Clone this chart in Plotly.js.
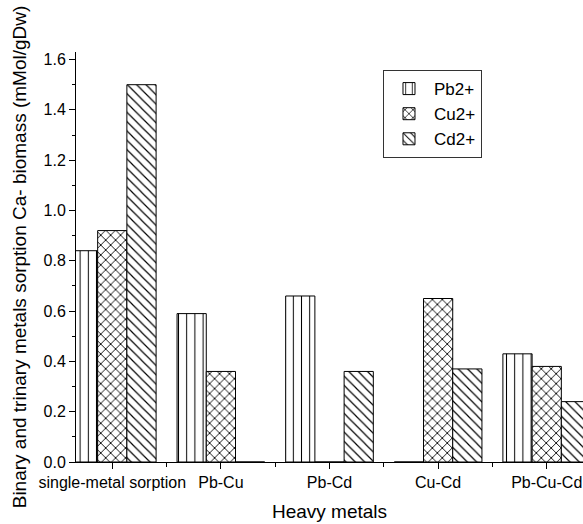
<!DOCTYPE html>
<html>
<head>
<meta charset="utf-8">
<script src="https://cdn.plot.ly/plotly-3.0.1.min.js"></script>
<style>html,body{margin:0;padding:0;background:#fff;}#chart{width:583px;height:524px;}</style>
</head>
<body>
<div id="chart"></div>
<script>
var categories = ['single-metal sorption', 'Pb-Cu', 'Pb-Cd', 'Cu-Cd', 'Pb-Cu-Cd'];
var seriesNames = ['Pb2+', 'Cu2+', 'Cd2+'];
var pbValues = [0.84, 0.59, 0.66, 0, 0.43];
var cuValues = [0.92, 0.36, 0, 0.65, 0.38];
var cdValues = [1.50, 0, 0.36, 0.37, 0.24];
var yTickVals = [0, 0.2, 0.4, 0.6, 0.8, 1.0, 1.2, 1.4, 1.6];

var xPos = categories.map(function (c, i) { return i; });
var FONT = 'Liberation Sans, Arial, sans-serif';

function barTrace(name, vals, shape, size, solidity) {
  return {
    type: 'bar', name: name, x: xPos, y: vals,
    marker: {
      color: 'white',
      line: {color: 'black', width: 1},
      pattern: {shape: shape, size: size, solidity: solidity, fgcolor: 'black', bgcolor: 'white'}
    },
    hoverinfo: 'skip'
  };
}

var data = [
  barTrace(seriesNames[0], pbValues, '|', 8.2, 0.12),
  barTrace(seriesNames[1], cuValues, 'x', 7, 0.24),
  barTrace(seriesNames[2], cdValues, '\\', 6.6, 0.18)
];

var layout = {
  width: 583, height: 524,
  margin: {l: 76, r: 0, t: 52, b: 62},
  paper_bgcolor: 'white', plot_bgcolor: 'white',
  font: {family: FONT, color: 'black', size: 16},
  barmode: 'group', bargap: 0.193, bargroupgap: 0,
  showlegend: true,
  legend: {
    x: 0.6055, y: 0.956, xanchor: 'left', yanchor: 'top',
    bordercolor: '#333', borderwidth: 1, bgcolor: 'white',
    font: {family: FONT, size: 17, color: 'black'},
    itemwidth: 40, tracegroupgap: 0
  },
  xaxis: {
    type: 'linear', range: [-0.334, 4.334],
    tickmode: 'array', tickvals: xPos, ticktext: categories,
    showline: true, linecolor: 'black', linewidth: 1,
    ticks: 'outside', ticklen: 6, tickcolor: 'black', tickwidth: 1,
    minor: {tickmode: 'array', tickvals: [0.5, 1.5, 2.5, 3.5], ticks: 'outside', ticklen: 4, tickcolor: 'black', showgrid: false},
    showgrid: false, zeroline: false,
    tickfont: {family: FONT, size: 16, color: 'black'},
    title: {text: 'Heavy metals', font: {family: FONT, size: 19, color: 'black'}, standoff: 14}
  },
  yaxis: {
    range: [0, 1.63],
    tickmode: 'array', tickvals: yTickVals, tickformat: '.1f',
    showline: true, linecolor: 'black', linewidth: 1,
    ticks: 'outside', ticklen: 6, tickcolor: 'black', tickwidth: 1,
    minor: {dtick: 0.1, tick0: 0, ticks: 'outside', ticklen: 3, tickcolor: 'black', showgrid: false},
    showgrid: false, zeroline: false,
    tickfont: {family: FONT, size: 16, color: 'black'},
    title: {text: 'Binary and trinary metals sorption Ca- biomass (mMol/gDw)', font: {family: FONT, size: 19, color: 'black'}, standoff: 11}
  }
};

Plotly.newPlot('chart', data, layout, {displayModeBar: false, staticPlot: true});
</script>
</body>
</html>
